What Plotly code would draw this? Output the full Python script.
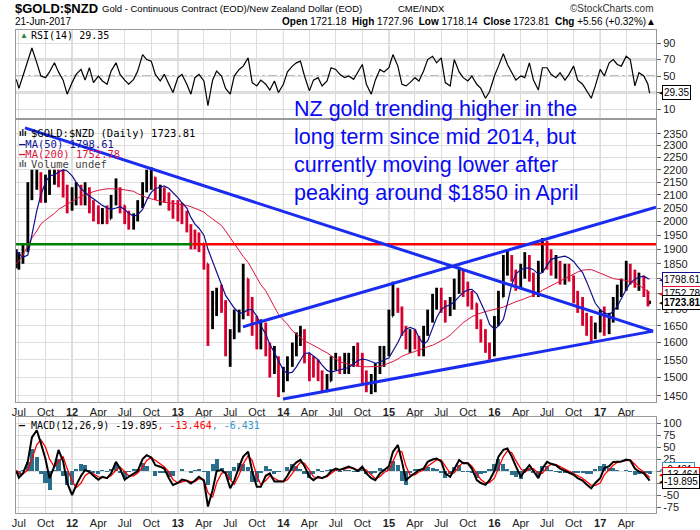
import math
import plotly.graph_objects as go
import pandas as pd

# ---------------- x categories (semi-monthly sample dates) ----------------
dates = ["2011-06-22"]
for yr in range(2011, 2018):
    for mo in range(1, 13):
        if (yr == 2011 and mo < 7) or (yr == 2017 and mo > 6):
            continue
        dates.append(f"{yr}-{mo:02d}-01")
        dates.append(f"{yr}-{mo:02d}-15")
dates.append("2017-06-21")

first_open = 1850
high = [
    1900, 1890, 1920, 2150, 2200, 2200, 2190, 2180, 2200, 2200, 2200, 2200, 2140,
    2130, 2150, 2140, 2150, 2130, 2080, 2060, 2050, 2060, 2100, 2165, 2130, 2060, 2040, 2030, 2080, 2150, 2200, 2210, 2170, 2140, 2130, 2110, 2080,
    2080, 2070, 2040, 1990, 1970, 1960, 1920, 1850, 1760, 1770, 1780, 1730, 1640, 1700, 1700, 1850, 1800, 1740, 1680, 1670, 1660, 1600, 1590, 1560,
    1530, 1560, 1600, 1630, 1650, 1640, 1570, 1560, 1550, 1520, 1510, 1560, 1570, 1560, 1570, 1570, 1590, 1600, 1570, 1520, 1510, 1540, 1590, 1590,
    1700, 1790, 1770, 1710, 1650, 1640, 1640, 1620, 1650, 1700, 1750, 1770, 1770, 1730, 1740, 1800, 1840, 1830, 1790, 1760, 1720, 1670, 1640, 1600,
    1680, 1760, 1880, 1900, 1880, 1830, 1850, 1890, 1880, 1820, 1860, 1940, 1930, 1900, 1880, 1860, 1850, 1850, 1810, 1760, 1740, 1690, 1680, 1660,
    1700, 1710, 1690, 1740, 1780, 1800, 1860, 1850, 1830, 1820, 1810, 1760, 1727.96]
low = [
    1835, 1830, 1850, 1890, 2080, 2120, 2070, 2070, 2100, 2140, 2130, 2090, 2030,
    2040, 2060, 2060, 2060, 2030, 2000, 1990, 1990, 1990, 2010, 2060, 2030, 1990, 1970, 1970, 2000, 2050, 2110, 2120, 2080, 2060, 2070, 2040, 2010,
    2000, 1990, 1960, 1900, 1900, 1890, 1830, 1590, 1640, 1680, 1690, 1560, 1530, 1610, 1630, 1670, 1680, 1620, 1580, 1580, 1560, 1500, 1510, 1447,
    1460, 1490, 1530, 1560, 1590, 1540, 1490, 1500, 1490, 1460, 1460, 1490, 1520, 1510, 1510, 1510, 1530, 1530, 1480, 1460, 1455, 1460, 1510, 1530,
    1560, 1680, 1690, 1620, 1580, 1570, 1580, 1560, 1560, 1620, 1660, 1700, 1690, 1660, 1680, 1700, 1750, 1740, 1710, 1700, 1640, 1600, 1570, 1550,
    1560, 1650, 1740, 1810, 1790, 1760, 1770, 1800, 1790, 1740, 1740, 1820, 1830, 1810, 1800, 1780, 1780, 1790, 1720, 1690, 1650, 1620, 1600, 1610,
    1630, 1620, 1625, 1660, 1700, 1740, 1760, 1780, 1770, 1760, 1740, 1710, 1718.14]
close = [
    1860, 1870, 1900, 2120, 2180, 2180, 2120, 2150, 2180, 2190, 2170, 2110, 2080,
    2100, 2110, 2090, 2120, 2050, 2030, 2020, 2030, 2010, 2080, 2120, 2060, 2010, 1990, 2010, 2060, 2130, 2150, 2170, 2100, 2120, 2090, 2060, 2040,
    2030, 2010, 1980, 1950, 1930, 1920, 1850, 1650, 1720, 1740, 1720, 1600, 1620, 1670, 1680, 1800, 1720, 1650, 1610, 1640, 1580, 1530, 1530, 1490,
    1500, 1540, 1580, 1610, 1630, 1560, 1530, 1520, 1510, 1480, 1490, 1540, 1550, 1530, 1540, 1550, 1570, 1560, 1500, 1480, 1490, 1520, 1560, 1570,
    1680, 1760, 1700, 1640, 1600, 1620, 1610, 1580, 1630, 1680, 1720, 1750, 1710, 1700, 1720, 1780, 1800, 1770, 1750, 1720, 1660, 1620, 1590, 1580,
    1660, 1740, 1850, 1860, 1810, 1790, 1820, 1860, 1810, 1770, 1840, 1900, 1870, 1840, 1850, 1800, 1820, 1810, 1740, 1720, 1670, 1640, 1630, 1640,
    1680, 1650, 1670, 1720, 1760, 1770, 1840, 1810, 1790, 1800, 1760, 1720, 1723.81]
ma50 = [
    1893, 1885, 1872, 1880, 1950, 2040, 2100, 2150, 2175, 2180, 2190, 2200, 2195,
    2175, 2150, 2125, 2110, 2095, 2085, 2070, 2060, 2050, 2045, 2050, 2055, 2045, 2030, 2020, 2025, 2045, 2080, 2110, 2125, 2130, 2135, 2125, 2110,
    2090, 2070, 2050, 2015, 1990, 1975, 1950, 1900, 1860, 1820, 1780, 1745, 1725, 1705, 1690, 1690, 1700, 1700, 1680, 1650, 1625, 1595, 1570, 1545,
    1520, 1512, 1515, 1530, 1550, 1568, 1570, 1560, 1550, 1535, 1520, 1515, 1518, 1522, 1525, 1528, 1538, 1548, 1552, 1550, 1545, 1540, 1543, 1550,
    1555, 1575, 1600, 1625, 1640, 1645, 1640, 1615, 1595, 1605, 1640, 1675, 1700, 1710, 1715, 1725, 1741, 1755, 1763, 1765, 1750, 1722, 1690, 1655,
    1640, 1650, 1670, 1720, 1780, 1815, 1830, 1835, 1835, 1830, 1815, 1820, 1845, 1865, 1870, 1872, 1876, 1870, 1858, 1840, 1820, 1790, 1755, 1720,
    1700, 1690, 1685, 1695, 1710, 1735, 1765, 1785, 1798, 1805, 1808, 1800, 1798.61]
ma200 = [
    1850, 1860, 1880, 1915, 1940, 1965, 1990, 2005, 2015, 2030, 2045, 2055, 2065,
    2075, 2085, 2095, 2100, 2108, 2113, 2118, 2122, 2124, 2124, 2124, 2122, 2120, 2117, 2114, 2105, 2095, 2090, 2085, 2080, 2075, 2072, 2070, 2068,
    2066, 2065, 2060, 2055, 2048, 2044, 2035, 2022, 2010, 2000, 1985, 1965, 1940, 1920, 1895, 1875, 1855, 1830, 1805, 1780, 1760, 1735, 1705, 1685,
    1668, 1655, 1635, 1625, 1615, 1605, 1598, 1592, 1585, 1577, 1570, 1562, 1553, 1545, 1540, 1537, 1534, 1532, 1530, 1530, 1530, 1530, 1531, 1535,
    1540, 1545, 1552, 1560, 1565, 1570, 1574, 1578, 1582, 1588, 1592, 1598, 1605, 1612, 1622, 1635, 1648, 1660, 1670, 1678, 1685, 1690, 1694, 1697,
    1700, 1704, 1708, 1714, 1720, 1725, 1730, 1735, 1740, 1745, 1752, 1762, 1770, 1778, 1786, 1793, 1800, 1808, 1815, 1822, 1828, 1830, 1830, 1825,
    1818, 1810, 1805, 1800, 1798, 1797, 1794, 1790, 1786, 1778, 1768, 1758, 1752.78]
rsi = [
    46, 35, 50, 70, 84, 66, 50, 48, 55, 66, 55, 45, 28,
    42, 52, 58, 45, 60, 42, 50, 44, 40, 56, 66, 52, 45, 40, 46, 56, 76, 70, 68, 52, 44, 52, 40, 30,
    48, 52, 40, 28, 48, 52, 44, 14, 45, 56, 50, 35, 28, 50, 58, 62, 72, 42, 38, 45, 40, 33, 44, 30,
    40, 55, 62, 66, 68, 50, 32, 45, 48, 38, 44, 60, 58, 52, 48, 50, 46, 55, 64, 40, 28, 45, 58, 55,
    60, 76, 62, 40, 38, 42, 48, 44, 56, 70, 74, 66, 72, 42, 38, 70, 55, 48, 44, 50, 40, 35, 23, 31,
    50, 62, 77, 64, 55, 45, 50, 48, 66, 45, 33, 60, 60, 52, 48, 54, 45, 52, 62, 45, 40, 32, 23, 38,
    58, 50, 66, 70, 64, 62, 74, 70, 38, 54, 50, 40, 29.35]
macd = [
    0, -14, -5, 20, 70, 85, 58, 25, -15, 10, 44, 20, -25,
    -50, -30, -10, 2, -2, -10, -18, -12, -15, -5, 19, 5, -18, -12, -5, 0, 25, 33, 28, 12, 9, 5, -15, -29,
    -25, -18, -20, -26, -20, -12, -20, -74, -40, 0, 2, -5, -36, -20, 9, 30, 40, 0, -33, -33, -10, -5, -22, -22,
    -22, -10, 9, 18, 23, 10, -12, -19, -12, -15, -10, 0, 5, 2, 5, 9, 5, 0, 9, -5, -15, -19, -5, 2,
    10, 40, 54, 20, -19, -12, -5, 2, 5, 19, 24, 26, 20, -5, -12, 5, 23, 16, 16, 5, -19, -25, -29, -19,
    0, 30, 44, 47, 30, 10, -12, 0, 12, 0, -15, 5, 19, 15, 12, 5, 0, -5, -8, -15, -20, -28, -36, -25,
    -15, 6, 10, 19, 20, 20, 24, 22, 5, -1, -5, -15, -19.895]
signal = [
    2, -5, -6, 2, 25, 55, 65, 50, 25, 8, 20, 30, 5,
    -20, -35, -25, -10, -3, -6, -12, -14, -14, -10, 2, 8, -2, -10, -10, -4, 8, 22, 28, 22, 14, 9, -2, -18,
    -25, -22, -20, -22, -22, -16, -18, -45, -55, -25, -5, -2, -18, -28, -8, 15, 32, 22, -10, -28, -20, -10, -15, -20,
    -22, -18, -5, 8, 18, 16, 2, -12, -15, -14, -12, -5, 2, 3, 4, 7, 6, 2, 5, 2, -8, -16, -12, -3,
    2, 20, 42, 40, 10, -8, -8, -2, 2, 10, 18, 23, 23, 10, -5, -4, 10, 18, 17, 10, -5, -18, -25, -24,
    -15, 5, 30, 42, 38, 22, 5, -3, 5, 5, -5, -5, 8, 14, 13, 9, 4, -1, -5, -10, -15, -22, -30, -30,
    -25, -8, 4, 12, 18, 20, 22, 23, 14, 5, -2, -10, -13.464]

for arr in (high, low, close, ma50, ma200, rsi, macd, signal):
    assert len(arr) == len(dates), (len(arr), len(dates))

# trend / level lines (date, price)
down_line_x = ["2011-07-22", "2017-07-03"]
down_line_y = [2376, 1634]
low_line_x = ["2013-12-31", "2017-07-03"]
low_line_y = [1442, 1634]
up_line_x = ["2013-08-14", "2017-07-13"]
up_line_y = [1647, 2053]
level_price = 1918
level_green_x = ["2011-06-21", "2013-02-20"]
level_red_x = ["2013-02-20", "2017-07-13"]

tick_dates = ["2011-07-01", "2011-10-01", "2012-01-01", "2012-04-01", "2012-07-01", "2012-10-01",
              "2013-01-01", "2013-04-01", "2013-07-01", "2013-10-01", "2014-01-01", "2014-04-01",
              "2014-07-01", "2014-10-01", "2015-01-01", "2015-04-01", "2015-07-01", "2015-10-01",
              "2016-01-01", "2016-04-01", "2016-07-01", "2016-10-01", "2017-01-01", "2017-04-01"]
tick_labels = ["Jul", "Oct", "<b>12</b>", "Apr", "Jul", "Oct", "<b>13</b>", "Apr", "Jul", "Oct",
               "<b>14</b>", "Apr", "Jul", "Oct", "<b>15</b>", "Apr", "Jul", "Oct", "<b>16</b>", "Apr",
               "Jul", "Oct", "<b>17</b>", "Apr"]
year_dates = ["2012-01-01", "2013-01-01", "2014-01-01", "2015-01-01", "2016-01-01", "2017-01-01"]
price_ticks = list(range(1450, 2351, 50))
price_hidden = [1750, 1800]          # covered by value tags in the reference
rsi_ticks = [10, 30, 50, 70, 90]
rsi_labels = ["10", "", "50", "70", "90"]
macd_ticks = [-75, -50, -25, 0, 25, 50, 75, 100]
macd_labels = ["-75", "-50", "", "", "25", "50", "75", "100"]

# ---------------- build figure ----------------
UP = "#000000"
DN = "#d6002e"
fig = go.Figure()

# RSI
fig.add_trace(go.Scatter(x=dates, y=rsi, mode="lines", line=dict(color="#000", width=1.2),
                         xaxis="x", yaxis="y", hoverinfo="skip"))

# price bars
opens = [first_open] + close[:-1]
tick = pd.Timedelta(days=3)
bx = {"up": [], "dn": []}
by = {"up": [], "dn": []}
f = lambda z: z.strftime("%Y-%m-%d %H:%M")
for d, o, h, l, c in zip(dates, opens, high, low, close):
    t = pd.Timestamp(d)
    key = "up" if c >= o else "dn"
    bx[key] += [f(t), f(t), None, f(t - tick), f(t), None, f(t), f(t + tick), None]
    by[key] += [l, h, None, o, o, None, c, c, None]
for key, col in (("up", UP), ("dn", DN)):
    fig.add_trace(go.Scatter(x=bx[key], y=by[key], mode="lines", line=dict(color=col, width=2.8),
                             xaxis="x2", yaxis="y2", hoverinfo="skip", connectgaps=False))

fig.add_trace(go.Scatter(x=dates, y=ma200, mode="lines", line=dict(color="#dc143c", width=1),
                         xaxis="x2", yaxis="y2"))
fig.add_trace(go.Scatter(x=dates, y=ma50, mode="lines", line=dict(color="#10108f", width=1.2),
                         xaxis="x2", yaxis="y2"))
fig.add_trace(go.Scatter(x=level_green_x, y=[level_price] * 2, mode="lines",
                         line=dict(color="#008000", width=2.5), xaxis="x2", yaxis="y2"))
fig.add_trace(go.Scatter(x=level_red_x, y=[level_price] * 2, mode="lines",
                         line=dict(color="#ff0000", width=2.5), xaxis="x2", yaxis="y2"))
for lx, ly in ((down_line_x, down_line_y), (low_line_x, low_line_y), (up_line_x, up_line_y)):
    fig.add_trace(go.Scatter(x=lx, y=ly, mode="lines", line=dict(color="#1a2cf0", width=3),
                             xaxis="x2", yaxis="y2"))

# MACD
hist = [m - s for m, s in zip(macd, signal)]
fig.add_trace(go.Bar(x=dates, y=hist, marker=dict(color="#2a6e8c", line=dict(width=0)),
                     width=14 * 86400000, xaxis="x3", yaxis="y3"))
fig.add_trace(go.Scatter(x=dates, y=signal, mode="lines", line=dict(color="#ff0000", width=1.3),
                         xaxis="x3", yaxis="y3"))
fig.add_trace(go.Scatter(x=dates, y=macd, mode="lines", line=dict(color="#000", width=2),
                         xaxis="x3", yaxis="y3"))

H = 530.0
def dom(top, bot):
    return [1 - bot / H, 1 - top / H]

GRID = "#dedede"
LINE = "#9a9a9a"
TF = dict(family="Liberation Sans, Arial", size=11, color="#222")
xcommon = dict(type="date", range=["2011-06-21", "2017-07-13"], tickvals=tick_dates, ticktext=tick_labels,
               showgrid=True, gridcolor=GRID, showline=True, linecolor=LINE, mirror=True,
               ticks="", tickfont=TF, zeroline=False, domain=[0, 1])
ycommon = dict(side="right", showgrid=True, gridcolor=GRID, showline=True, linecolor=LINE, mirror=True,
               ticks="outside", ticklen=4, tickcolor="#666", tickfont=TF, zeroline=False)

fig.update_layout(
    width=700, height=530, margin=dict(l=16, r=44, t=0, b=0),
    paper_bgcolor="white", plot_bgcolor="white", showlegend=False, bargap=0,
    xaxis=dict(**xcommon, anchor="y", showticklabels=False),
    xaxis2=dict(**xcommon, anchor="y2", matches="x", showticklabels=True),
    xaxis3=dict(**xcommon, anchor="y3", matches="x", showticklabels=True),
    yaxis=dict(**ycommon, domain=dom(30, 118), range=[-0.9, 105.8], tickvals=rsi_ticks,
               ticktext=rsi_labels),
    yaxis2=dict(**ycommon, domain=dom(120, 402), type="log",
                range=[math.log10(1434), math.log10(2411)], tickvals=price_ticks,
                ticktext=["" if v in price_hidden else str(v) for v in price_ticks]),
    yaxis3=dict(**ycommon, domain=dom(417, 513), range=[-87.5, 112.5], tickvals=macd_ticks,
                ticktext=macd_labels),
)

shapes = []
for yd in year_dates:
    for ax in ("y", "y2", "y3"):
        shapes.append(dict(type="line", xref="x", yref=f"{ax} domain", x0=yd, x1=yd, y0=0, y1=1,
                           line=dict(color="#b4b4b4", width=1), layer="below"))
for v, dash, w in ((70, "solid", 1.5), (30, "solid", 1.5), (50, "dashdot", 1)):
    shapes.append(dict(type="line", xref="x domain", yref="y", x0=0, x1=1, y0=v, y1=v,
                       line=dict(color="#777", width=w, dash=dash), layer="below"))
fig.update_layout(shapes=shapes)

def A(x, y, text, size=10, color="#000", family="Liberation Sans, Arial", xanchor="left", **kw):
    return dict(x=(x - 16) / 640.0, y=1 - y / H, xref="paper", yref="paper", text=text, showarrow=False,
                xanchor=xanchor, yanchor="middle", font=dict(size=size, color=color, family=family), **kw)

MONO = "DejaVu Sans Mono"
TAG = dict(size=10, borderwidth=1, bgcolor="white", borderpad=1)
anns = [
    A(13, 9, "<b>$GOLD:$NZD</b>", size=13),
    A(100, 9, "Gold - Continuous Contract (EOD)/New Zealand Dollar (EOD)", size=9.5),
    A(396, 9, "CME/INDX", size=9.5),
    A(656, 9, "©StockCharts.com", size=10, color="#333", xanchor="right"),
    A(13, 22, "21-Jun-2017", size=10),
    A(658, 22, "<b>Open</b> 1721.18  <b>High</b> 1727.96  <b>Low</b> 1718.14  <b>Close</b> 1723.81  "
               "<b>Chg</b> +5.56 (+0.32%)▲", size=10, xanchor="right"),
    A(18, 36, "▲", size=8, color="#2e7d32"),
    A(29, 36, "RSI(14) 29.35", size=10, family=MONO),
    A(17, 133, "<b>ılı</b>", size=9, color="#000"),
    A(29, 133, "$GOLD:$NZD (Daily) 1723.81", size=10.5, family=MONO),
    A(17, 144, "<b>—</b>MA(50) 1798.61", size=10.5, family=MONO, color="#10108f"),
    A(17, 154, "<b>—</b>MA(200) 1752.78", size=10.5, family=MONO, color="#dc143c"),
    A(17, 164, "<b>ılı</b>", size=9, color="#555"),
    A(29, 164, "Volume undef", size=10.5, family=MONO, color="#444"),
    A(17, 425, "<b>—</b> MACD(12,26,9) -19.895<span style='color:#ff0000'>, -13.464</span>"
               "<span style='color:#3399cc'>, -6.431</span>", size=10, family=MONO),
    A(292, 151, "NZ gold trending higher in the<br>long term since mid 2014, but<br>"
                "currently moving lower after<br>peaking around $1850 in April",
      size=21.5, color="#0a0af0", align="left"),
]
# value tags (drawn last so they sit on top)
tags = [
    (93, "29.35", "#000"),
    (279, "1798.61", "#10108f"),
    (293, "1752.78", "#dc143c"),
    (302, "<b>1723.81</b>", "#000"),
    (469, "-6.431", "#3399cc"),
    (474, "-13.464", "#ff0000"),
    (481, "-19.895", "#000"),
]
for ty, tt, tc in tags:
    anns.append(A(657, ty, "◀", size=7, color=tc))
    anns.append(A(662, ty, tt, bordercolor=tc, **TAG))
fig.update_layout(annotations=anns)

fig.write_html("out.html")
